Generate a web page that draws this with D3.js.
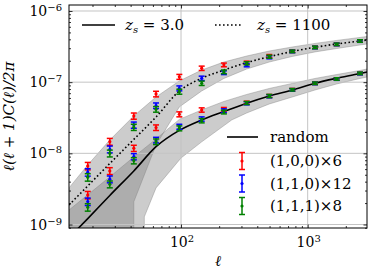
<!DOCTYPE html>
<html>
<head>
<meta charset="utf-8">
<script src="https://cdn.jsdelivr.net/npm/d3@7"></script>
<style>
  body { margin: 0; background: #fff; }
  text { font-family: "DejaVu Serif", serif; fill: #000; }
</style>
</head>
<body>
<div id="plot"></div>
<script>
const margin = {top: 5, right: 7, bottom: 48, left: 69};
const width = 374 - margin.left - margin.right;
const height = 276 - margin.top - margin.bottom;

// multipole bins of the measured points
const ellBins = [18.35, 27.4, 42.4, 63.5, 97, 145.6, 218, 330, 498, 756, 1142, 1694, 2588];

// z_s = 1100 points
const cmbRed   = [6.65e-9, 1.46e-8, 3.35e-8, 6.83e-8, 1.19e-7, 1.57e-7, 1.75e-7, 1.88e-7, 2.33e-7, 2.72e-7, 3.09e-7, 3.40e-7, 3.79e-7];
const cmbBlue  = [5.43e-9, 1.14e-8, 2.50e-8, 4.68e-8, 8.20e-8, 1.135e-7, 1.36e-7, 1.73e-7, 2.24e-7, 2.70e-7, 3.07e-7, 3.39e-7, 3.78e-7];
const cmbGreen = [4.62e-9, 1.00e-8, 2.33e-8, 4.16e-8, 7.36e-8, 9.66e-8, 1.40e-7, 1.84e-7, 2.28e-7, 2.71e-7, 3.08e-7, 3.40e-7, 3.79e-7];

// z_s = 3.0 points
const galRed   = [2.60e-9, 5.66e-9, 1.18e-8, 2.30e-8, 3.54e-8, 4.07e-8, 4.16e-8, 5.15e-8, 6.40e-8, 7.85e-8, 9.66e-8, 1.11e-7, 1.33e-7];
const galBlue  = [2.10e-9, 4.33e-9, 9.00e-9, 1.54e-8, 2.37e-8, 3.04e-8, 3.98e-8, 5.05e-8, 6.35e-8, 7.80e-8, 9.60e-8, 1.105e-7, 1.32e-7];
const galGreen = [1.75e-9, 3.68e-9, 7.90e-9, 1.46e-8, 2.25e-8, 2.88e-8, 3.81e-8, 5.10e-8, 6.40e-8, 7.82e-8, 9.65e-8, 1.11e-7, 1.33e-7];

// relative error of each bin
const relErr = [0.12, 0.11, 0.10, 0.09, 0.08, 0.07, 0.06, 0.05, 0.05, 0.04, 0.04, 0.04, 0.04];

// random (theory) curves
const lineEll  = [13.05, 18.35, 27.4, 42.4, 63.5, 97, 145.6, 218, 330, 498, 756, 1142, 1694, 2588, 2940];
const cmbCurve = [1.88e-9, 3.48e-9, 7.2e-9, 1.57e-8, 3.24e-8, 7.5e-8, 1.135e-7, 1.48e-7, 1.88e-7, 2.28e-7, 2.70e-7, 3.09e-7, 3.44e-7, 3.79e-7, 3.92e-7];
const galCurve = [6.5e-10, 1.21e-9, 2.56e-9, 5.66e-9, 1.24e-8, 2.1e-8, 2.94e-8, 3.86e-8, 5.06e-8, 6.4e-8, 7.77e-8, 9.66e-8, 1.135e-7, 1.32e-7, 1.39e-7];

// scatter bands: upper edges on lineEll, lower edges on their own grids
const cmbUpper = [3.27e-9, 6.87e-9, 1.54e-8, 3.35e-8, 6.19e-8, 1.04e-7, 1.48e-7, 1.92e-7, 2.33e-7, 2.74e-7, 3.12e-7, 3.5e-7, 3.86e-7, 4.25e-7, 4.38e-7];
const cmbLowEll = [13.05, 42.4, 42.4, 63.5, 97, 145.6, 218, 330, 498, 756, 1142, 1694, 2588, 2940];
const cmbLower  = [1e-10, 1e-10, 2.09e-9, 1.31e-8, 4.49e-8, 7.52e-8, 1.127e-7, 1.53e-7, 1.92e-7, 2.3e-7, 2.66e-7, 2.97e-7, 3.33e-7, 3.44e-7];
const galUpper = [1.6e-9, 2.61e-9, 4.67e-9, 8.9e-9, 1.59e-8, 3.0e-8, 4.07e-8, 5.36e-8, 6.72e-8, 8.16e-8, 9.6e-8, 1.127e-7, 1.28e-7, 1.46e-7, 1.53e-7];
const galLowEll = [13.05, 51.3, 51.3, 63.5, 100, 145.6, 251, 330, 498, 756, 1142, 1694, 2588, 2940];
const galLower  = [1e-10, 1e-10, 1.28e-9, 3.27e-9, 8.6e-9, 1.45e-8, 2.94e-8, 3.69e-8, 4.94e-8, 6.19e-8, 7.76e-8, 9.44e-8, 1.127e-7, 1.18e-7];

const seriesColors = ["red", "blue", "green"];
const seriesLabels = ["(1,0,0)\u00d76", "(1,1,0)\u00d712", "(1,1,1)\u00d78"];

const svg = d3.select("#plot").append("svg")
  .attr("width", width + margin.left + margin.right)
  .attr("height", height + margin.top + margin.bottom);

const g = svg.append("g").attr("transform", `translate(${margin.left},${margin.top})`);

const x = d3.scaleLog().domain([13.05, 2940]).range([0, width]);
const y = d3.scaleLog().domain([8.93e-10, 1.214e-6]).range([height, 0]);

svg.append("defs").append("clipPath").attr("id", "clip")
  .append("rect").attr("width", width).attr("height", height);

const plot = g.append("g").attr("clip-path", "url(#clip)");

// bands
const poly = d3.line().x(d => x(d[0])).y(d => y(d[1]));
function band(upEll, up, lowEll, low) {
  const pts = upEll.map((e, i) => [e, up[i]]);
  const lows = lowEll.map((e, i) => [e, low[i]]).reverse();
  return poly(pts.concat(lows)) + "Z";
}
[[lineEll, cmbUpper, cmbLowEll, cmbLower], [lineEll, galUpper, galLowEll, galLower]].forEach(b => {
  plot.append("path")
    .attr("d", band(...b))
    .attr("fill", "gray")
    .attr("fill-opacity", 0.4)
    .attr("stroke", "gray")
    .attr("stroke-opacity", 0.4)
    .attr("stroke-width", 1);
});

// grid
const xMajor = [100, 1000];
const yMajor = [1e-9, 1e-8, 1e-7, 1e-6];
plot.selectAll(".gx").data(xMajor).enter().append("line")
  .attr("x1", d => x(d)).attr("x2", d => x(d))
  .attr("y1", 0).attr("y2", height)
  .attr("stroke", "#c4c4c4").attr("stroke-width", 1);
plot.selectAll(".gy").data(yMajor).enter().append("line")
  .attr("y1", d => y(d)).attr("y2", d => y(d))
  .attr("x1", 0).attr("x2", width)
  .attr("stroke", "#c4c4c4").attr("stroke-width", 1);

// curves
const curve = d3.line().x(d => x(d[0])).y(d => y(d[1])).curve(d3.curveMonotoneX);
plot.append("path")
  .attr("d", curve(lineEll.map((e, i) => [e, galCurve[i]])))
  .attr("fill", "none").attr("stroke", "#000").attr("stroke-width", 1.6);
plot.append("path")
  .attr("d", curve(lineEll.map((e, i) => [e, cmbCurve[i]])))
  .attr("fill", "none").attr("stroke", "#000").attr("stroke-width", 1.6)
  .attr("stroke-dasharray", "1.6,2.4");

// error bars
function errorbars(vals, color) {
  const data = ellBins.map((e, i) => ({e: e, v: vals[i], lo: vals[i] * (1 - relErr[i]), hi: vals[i] * (1 + relErr[i])}));
  const eg = plot.append("g");
  const s = eg.selectAll("g").data(data).enter().append("g")
    .attr("transform", d => `translate(${x(d.e)},0)`);
  s.append("line").attr("y1", d => y(d.lo)).attr("y2", d => y(d.hi))
    .attr("stroke", color).attr("stroke-width", 1.5);
  s.append("line").attr("x1", -3).attr("x2", 3).attr("y1", d => y(d.lo)).attr("y2", d => y(d.lo))
    .attr("stroke", color).attr("stroke-width", 1.5);
  s.append("line").attr("x1", -3).attr("x2", 3).attr("y1", d => y(d.hi)).attr("y2", d => y(d.hi))
    .attr("stroke", color).attr("stroke-width", 1.5);
  s.append("circle").attr("cy", d => y(d.v)).attr("r", 1.6).attr("fill", color);
}
[galRed, galBlue, galGreen].forEach((v, i) => errorbars(v, seriesColors[i]));
[cmbRed, cmbBlue, cmbGreen].forEach((v, i) => errorbars(v, seriesColors[i]));

// axes: inward ticks on all four sides
const xMinor = x.ticks().filter(d => !xMajor.includes(d));
const yMinor = y.ticks().filter(d => !yMajor.some(m => Math.abs(m - d) / m < 1e-6));

function ticks(axisFn, scale, vals, size, tr) {
  const a = g.append("g").attr("transform", tr)
    .call(axisFn(scale).tickValues(vals).tickSize(-size).tickFormat(""));
  a.select(".domain").remove();
  a.selectAll("line").attr("stroke", "#000").attr("stroke-width", 0.8);
  return a;
}
ticks(d3.axisBottom, x, xMajor, 3.5, `translate(0,${height})`);
ticks(d3.axisBottom, x, xMinor, 2, `translate(0,${height})`);
ticks(d3.axisTop, x, xMajor, 3.5, "translate(0,0)");
ticks(d3.axisTop, x, xMinor, 2, "translate(0,0)");
ticks(d3.axisLeft, y, yMajor, 3.5, "translate(0,0)");
ticks(d3.axisLeft, y, yMinor, 2, "translate(0,0)");
ticks(d3.axisRight, y, yMajor, 3.5, `translate(${width},0)`);
ticks(d3.axisRight, y, yMinor, 2, `translate(${width},0)`);

g.append("rect").attr("width", width).attr("height", height)
  .attr("fill", "none").attr("stroke", "#000").attr("stroke-width", 1);

// tick labels
function power(sel, exp) {
  sel.append("tspan").text("10");
  sel.append("tspan").attr("dy", "-0.5em").attr("font-size", "10px").text(exp);
}
g.selectAll(".xl").data(xMajor).enter().append("text")
  .attr("x", d => x(d) + 1).attr("y", height + 19)
  .attr("text-anchor", "middle").attr("font-size", "14px")
  .each(function(d) { power(d3.select(this), String(Math.round(Math.log10(d)))); });
g.selectAll(".yl").data(yMajor).enter().append("text")
  .attr("x", -7).attr("y", d => y(d) + 5)
  .attr("text-anchor", "end").attr("font-size", "14px")
  .each(function(d) { power(d3.select(this), "\u2212" + String(-Math.round(Math.log10(d)))); });

// axis titles
g.append("text").attr("x", width / 2).attr("y", height + 38)
  .attr("text-anchor", "middle").attr("font-size", "15px").attr("font-style", "italic")
  .text("\u2113");
g.append("text").attr("transform", `translate(${-55},${height / 2}) rotate(-90)`)
  .attr("text-anchor", "middle").attr("font-size", "15px").attr("font-style", "italic")
  .text("\u2113(\u2113 + 1)C(\u2113)/2\u03c0");

// top legend
function zLabel(xp, value) {
  const t = g.append("text").attr("x", xp).attr("y", 25).attr("font-size", "15px");
  t.append("tspan").attr("font-style", "italic").text("z");
  t.append("tspan").attr("font-style", "italic").attr("font-size", "10px").attr("dy", "3").text("s");
  t.append("tspan").attr("dy", "-3").text(" = " + value);
}
g.append("line").attr("x1", 13).attr("x2", 46).attr("y1", 20).attr("y2", 20)
  .attr("stroke", "#000").attr("stroke-width", 1.6);
zLabel(56, "3.0");
g.append("line").attr("x1", 146).attr("x2", 174).attr("y1", 20).attr("y2", 20)
  .attr("stroke", "#000").attr("stroke-width", 1.6).attr("stroke-dasharray", "1.6,2.4");
zLabel(188, "1100");

// lower legend
const lg = g.append("g").attr("transform", "translate(158,0)");
lg.append("line").attr("x1", 0).attr("x2", 31).attr("y1", 132).attr("y2", 132)
  .attr("stroke", "#000").attr("stroke-width", 1.6);
lg.append("text").attr("x", 43).attr("y", 137).attr("font-size", "15px").text("random");
seriesLabels.forEach((lab, i) => {
  const cy = 156 + i * 22.5;
  const c = seriesColors[i];
  lg.append("line").attr("x1", 15).attr("x2", 15).attr("y1", cy - 8.5).attr("y2", cy + 8.5)
    .attr("stroke", c).attr("stroke-width", 1.5);
  [-8.5, 8.5].forEach(dy => lg.append("line").attr("x1", 12).attr("x2", 18)
    .attr("y1", cy + dy).attr("y2", cy + dy).attr("stroke", c).attr("stroke-width", 1.5));
  lg.append("circle").attr("cx", 15).attr("cy", cy).attr("r", 1.6).attr("fill", c);
  lg.append("text").attr("x", 43).attr("y", cy + 5).attr("font-size", "15px").text(lab);
});
</script>
</body>
</html>
